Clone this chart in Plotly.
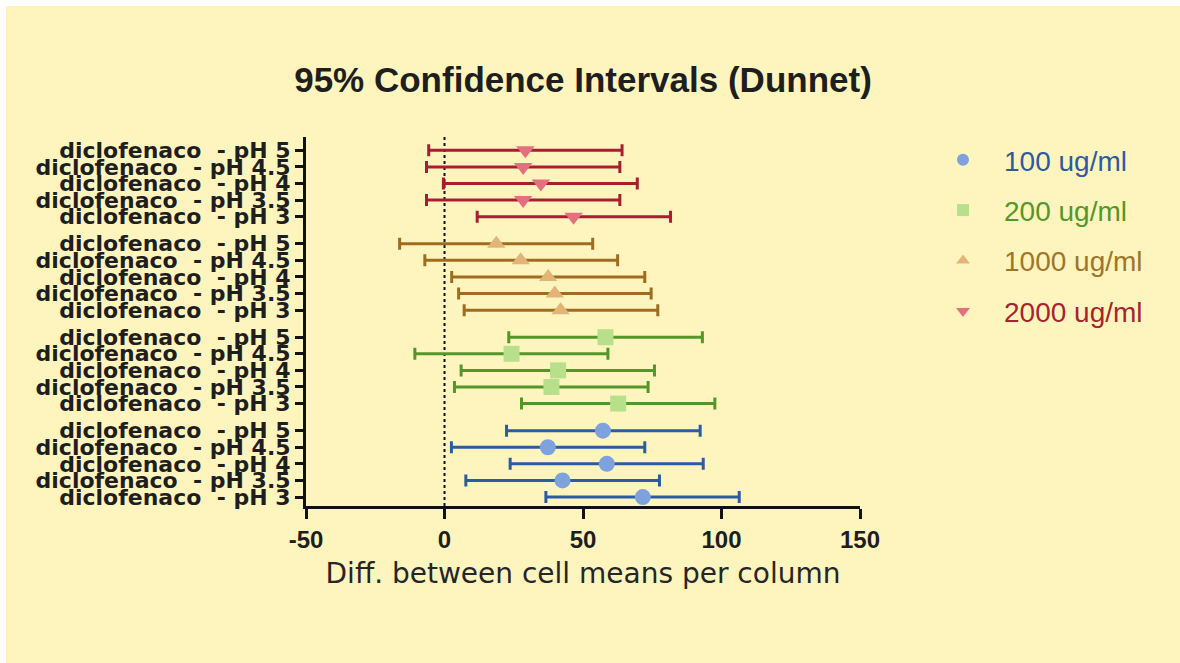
import plotly.graph_objects as go

# ---------------- data ----------------
ph_labels = ["diclofenaco  - pH 3", "diclofenaco  - pH 3.5", "diclofenaco  - pH 4",
             "diclofenaco  - pH 4.5", "diclofenaco  - pH 5"]
series_names = ["100 ug/ml", "200 ug/ml", "1000 ug/ml", "2000 ug/ml"]

# order: pH 3, 3.5, 4, 4.5, 5
mean_100 = [71.6, 42.6, 58.6, 37.3, 57.2]
low_100 = [36.6, 7.7, 23.7, 2.5, 22.4]
high_100 = [106.4, 77.6, 93.4, 72.3, 92.3]

mean_200 = [62.7, 38.6, 41.0, 24.2, 58.1]
low_200 = [27.8, 3.6, 6.0, -10.7, 23.2]
high_200 = [97.6, 73.5, 75.8, 59.0, 93.1]

mean_1000 = [41.9, 39.8, 37.4, 27.5, 18.7]
low_1000 = [7.1, 5.1, 2.6, -7.1, -16.2]
high_1000 = [77.0, 74.6, 72.3, 62.5, 53.5]

mean_2000 = [46.6, 28.4, 34.8, 28.4, 29.2]
low_2000 = [11.8, -6.5, -0.4, -6.5, -5.7]
high_2000 = [81.6, 63.3, 69.6, 63.3, 64.1]

x_ticks = [-50, 0, 50, 100, 150]

# ---------------- style ----------------
BG = "#FEF5BE"
marker_colors = ["#7DA2DD", "#B8E08A", "#E1B478", "#E2707F"]
bar_colors = ["#2D5BA3", "#55962A", "#9E6C1E", "#A61E30"]
text_colors = ["#2E5AA0", "#55962A", "#A0742A", "#A62430"]
symbols = ["circle", "square", "triangle-up", "triangle-down"]
GROUP_STEP = 5.63

means = [mean_100, mean_200, mean_1000, mean_2000]
lows = [low_100, low_200, low_1000, low_2000]
highs = [high_100, high_200, high_1000, high_2000]

fig = go.Figure()
tickvals, ticktext = [], []
for g, name in enumerate(series_names):
    ys = [g * GROUP_STEP + i for i in range(len(ph_labels))]
    tickvals += ys
    ticktext += ph_labels
    m = means[g]
    plus = [h - v for h, v in zip(highs[g], m)]
    minus = [v - l for v, l in zip(m, lows[g])]
    fig.add_trace(go.Scatter(
        x=m, y=ys, mode="markers",
        name=f"<span style='color:{text_colors[g]}'>{name}</span>",
        legendgroup=name,
        marker=dict(symbol=symbols[g], size=16, color=marker_colors[g], line=dict(width=0)),
        error_x=dict(type="data", symmetric=False, array=plus, arrayminus=minus,
                     color=bar_colors[g], thickness=3, width=6),
    ))

L, R, T, B = 306, 320, 137, 157
W, H = 1180, 663
pw, ph = W - L - R, H - T - B

fig.add_shape(type="rect", xref="paper", yref="paper",
              x0=(6 - L) / pw, x1=(W - L) / pw + 0.01,
              y0=-(B + 2) / ph, y1=(H - B - 6) / ph,
              fillcolor=BG, line=dict(width=0), layer="below")
fig.add_shape(type="line", xref="x", yref="paper", x0=0, x1=0, y0=0, y1=1,
              line=dict(color="#111111", width=2, dash="dot"), layer="below")

fig.update_layout(
    width=W, height=H,
    paper_bgcolor="white", plot_bgcolor="rgba(0,0,0,0)",
    margin=dict(l=L, r=R, t=T, b=B),
    title=dict(text="<b>95% Confidence Intervals (Dunnet)</b>",
               font=dict(family="Liberation Sans", size=35, color="#1e1e1e"),
               x=0.5, xref="paper", xanchor="center",
               y=1 - 80 / H, yref="container", yanchor="middle"),
    xaxis=dict(range=[-50, 150], tickvals=x_ticks, ticktext=[str(v) for v in x_ticks],
               showgrid=False, zeroline=False, showline=True, linecolor="#111111", linewidth=3,
               ticks="outside", ticklen=10, tickwidth=3, tickcolor="#111111",
               tickfont=dict(family="Liberation Sans", size=24, color="#1e1e1e", weight="bold"),
               title=dict(text="Diff. between cell means per column",
                          font=dict(family="DejaVu Sans", size=28, color="#262626"), standoff=12)),
    yaxis=dict(range=[-0.54, 21.69], tickvals=tickvals, ticktext=ticktext,
               showgrid=False, zeroline=False, showline=True, linecolor="#111111", linewidth=3,
               ticks="outside", ticklen=8, tickwidth=3, tickcolor="#111111",
               tickfont=dict(family="DejaVu Sans", size=22, color="#1e1e1e", weight="bold")),
    legend=dict(x=(922 - L) / pw, xanchor="left", y=(506 - 135) / ph, yanchor="top",
                font=dict(family="Liberation Sans", size=28), bgcolor="rgba(0,0,0,0)",
                tracegroupgap=11, itemsizing="constant", itemwidth=72),
    showlegend=True,
)

fig.write_html("out.html")
